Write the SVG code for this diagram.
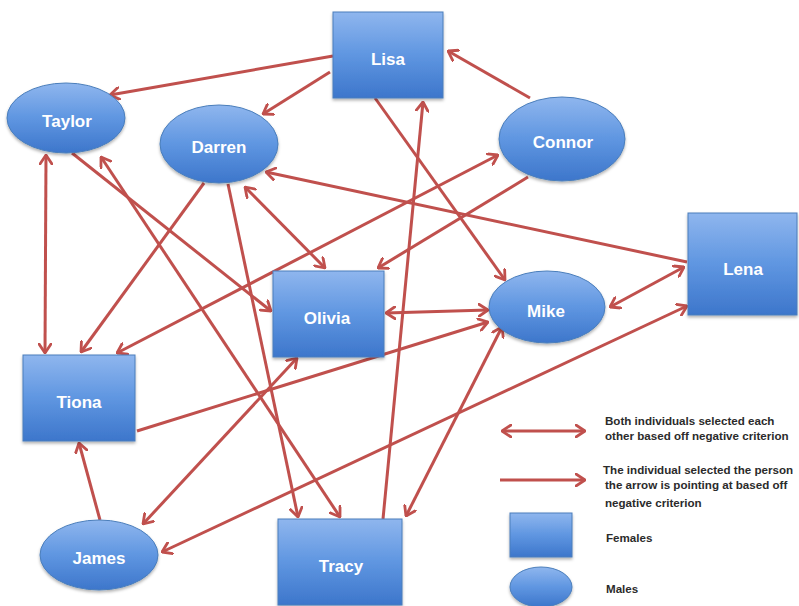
<svg xmlns="http://www.w3.org/2000/svg" width="799" height="606" viewBox="0 0 799 606">
<defs>
<linearGradient id="g" x1="0" y1="0" x2="0" y2="1">
<stop offset="0" stop-color="#8fb6ee"/>
<stop offset="0.5" stop-color="#5f96e1"/>
<stop offset="1" stop-color="#3d76cb"/>
</linearGradient>
<filter id="sh" x="-20%" y="-20%" width="140%" height="150%">
<feDropShadow dx="0" dy="2" stdDeviation="1.5" flood-color="#000" flood-opacity="0.3"/>
</filter>
<marker id="ah" viewBox="0 0 11 14" refX="10" refY="7" markerWidth="11" markerHeight="14" markerUnits="userSpaceOnUse" orient="auto-start-reverse">
<path d="M1,1 L10,7 L1,13" fill="none" stroke="#c0504d" stroke-width="2.8" stroke-linecap="round" stroke-linejoin="round"/>
</marker>
</defs>
<style>
.n{fill:url(#g);stroke:#4a7ebb;stroke-width:1;filter:url(#sh)}
.t{font-family:"Liberation Sans",Arial,sans-serif;font-weight:bold;font-size:17px;fill:#fff;text-anchor:middle}
.e{stroke:#c0504d;stroke-width:3;fill:none}
.s{marker-end:url(#ah)}
.d{marker-start:url(#ah);marker-end:url(#ah)}
.l{font-family:"Liberation Sans",Arial,sans-serif;font-weight:bold;font-size:11.6px;fill:#2b2b2b}
</style>
<rect width="799" height="606" fill="#fff"/>
<g id="connectors">
<line class="e s" x1="333" y1="56" x2="110" y2="95"/>
<line class="e s" x1="330" y1="72" x2="263" y2="114"/>
<line class="e s" x1="530" y1="98" x2="448" y2="51"/>
<line class="e s" x1="375" y1="98" x2="505" y2="280"/>
<line class="e s" x1="383" y1="519" x2="423" y2="102"/>
<line class="e d" x1="46" y1="155" x2="45" y2="353"/>
<line class="e s" x1="72" y1="153" x2="271" y2="311"/>
<line class="e d" x1="101" y1="157" x2="340" y2="517"/>
<line class="e s" x1="204" y1="183" x2="81" y2="352"/>
<line class="e d" x1="498" y1="155" x2="117" y2="353"/>
<line class="e s" x1="228" y1="184" x2="298" y2="517"/>
<line class="e d" x1="245" y1="187" x2="325" y2="268"/>
<line class="e s" x1="687" y1="262" x2="266" y2="172"/>
<line class="e s" x1="528" y1="177" x2="378" y2="268"/>
<line class="e d" x1="386" y1="313" x2="488" y2="310"/>
<line class="e s" x1="137" y1="431" x2="488" y2="322"/>
<line class="e d" x1="143" y1="524" x2="297" y2="358"/>
<line class="e d" x1="162" y1="552" x2="687" y2="306"/>
<line class="e s" x1="100" y1="520" x2="79" y2="443"/>
<line class="e d" x1="406" y1="516" x2="502" y2="327"/>
<line class="e d" x1="610" y1="307" x2="684" y2="267"/>
</g>
<g id="Lisa"><rect class="n" x="333" y="12" width="110" height="86"/><text class="t" x="388" y="65">Lisa</text></g>
<g id="Connor"><ellipse class="n" cx="562" cy="139" rx="63" ry="42"/><text class="t" x="563" y="148">Connor</text></g>
<g id="Taylor"><ellipse class="n" cx="66" cy="118" rx="59" ry="35"/><text class="t" x="67" y="127">Taylor</text></g>
<g id="Darren"><ellipse class="n" cx="219" cy="144" rx="59" ry="39"/><text class="t" x="219" y="153">Darren</text></g>
<g id="Olivia"><rect class="n" x="273" y="271" width="111" height="86"/><text class="t" x="327" y="324">Olivia</text></g>
<g id="Mike"><ellipse class="n" cx="547" cy="307" rx="58" ry="36"/><text class="t" x="546" y="317">Mike</text></g>
<g id="Lena"><rect class="n" x="688" y="213" width="109" height="102"/><text class="t" x="743" y="275">Lena</text></g>
<g id="Tiona"><rect class="n" x="23" y="355" width="112" height="86"/><text class="t" x="79" y="408">Tiona</text></g>
<g id="James"><ellipse class="n" cx="99" cy="555" rx="59" ry="35"/><text class="t" x="99" y="564">James</text></g>
<g id="Tracy"><rect class="n" x="278" y="519" width="124" height="86"/><text class="t" x="341" y="572">Tracy</text></g>
<g id="legend">
<line class="e d" x1="502" y1="431" x2="585" y2="431"/>
<line class="e s" x1="500" y1="480" x2="585" y2="480"/>
<rect class="n" x="510" y="513" width="62" height="44"/>
<ellipse class="n" cx="541" cy="587" rx="31" ry="20"/>
<text class="l" x="605" y="425">Both individuals selected each</text>
<text class="l" x="605" y="440">other based off negative criterion</text>
<text class="l" x="603" y="474">The individual selected the person</text>
<text class="l" x="605" y="489">the arrow is pointing at based off</text>
<text class="l" x="605" y="507">negative criterion</text>
<text class="l" x="606" y="542">Females</text>
<text class="l" x="606" y="593">Males</text>
</g>
</svg>
